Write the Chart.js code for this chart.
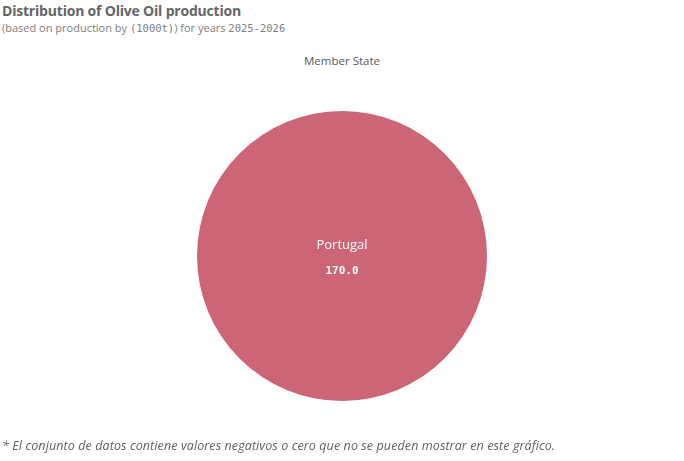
<!DOCTYPE html>
<html>
<head>
<meta charset="utf-8">
<script src="https://cdn.jsdelivr.net/npm/chart.js@4/dist/chart.umd.min.js"></script>
<style>
  html, body { margin: 0; padding: 0; background: #fff; }
  body { width: 684px; height: 461px; position: relative; overflow: hidden; font-family: "Open Sans", "Noto Sans", sans-serif; }
  #title { position: absolute; left: 2px; top: 1px; font-size: 14px; font-weight: bold; color: #656565; letter-spacing: -0.2px; }
  #subtitle { position: absolute; left: 2px; top: 20px; font-size: 11px; color: #808080; }
  #subtitle .mono { font-family: "DejaVu Sans Mono", monospace; font-size: 10.5px; }
  #legendTitle { position: absolute; left: 0; width: 684px; top: 53px; text-align: center; font-size: 11.5px; color: #595959; }
  #note { position: absolute; left: 2px; top: 437px; font-size: 12.5px; font-style: italic; color: #606060; letter-spacing: 0.1px; }
  #wrap { position: absolute; left: 0; top: 0; width: 684px; height: 461px; }
</style>
</head>
<body>
<div id="title">Distribution of Olive Oil production</div>
<div id="subtitle">(based on production by <span class="mono">(1000t)</span>) for years <span class="mono">2025-2026</span></div>
<div id="legendTitle">Member State</div>
<div id="wrap"><canvas id="c"></canvas></div>
<div id="note">* El conjunto de datos contiene valores negativos o cero que no se pueden mostrar en este gráfico.</div>
<script>
var states = ["Portugal"];
var production = [170.0];
var sliceColors = ["#cc6677"];

var sliceLabels = {
    id: 'sliceLabels',
    afterDatasetsDraw: function (chart) {
        var ctx = chart.ctx;
        var meta = chart.getDatasetMeta(0);
        meta.data.forEach(function (arc, i) {
            var p = arc.getCenterPoint();
            if (meta.data.length === 1) {
                p = { x: arc.x, y: arc.y };
            }
            ctx.save();
            ctx.fillStyle = "#ffffff";
            ctx.textAlign = "center";
            ctx.textBaseline = "middle";
            ctx.font = "13px 'Open Sans', sans-serif";
            ctx.fillText(states[i], p.x, p.y - 11);
            ctx.font = "bold 11px 'DejaVu Sans Mono', monospace";
            ctx.fillText(production[i].toFixed(1), p.x, p.y + 15);
            ctx.restore();
        });
    }
};

new Chart(document.getElementById('c'), {
    type: 'pie',
    data: {
        labels: states,
        datasets: [{
            data: production,
            backgroundColor: sliceColors,
            borderWidth: 0
        }]
    },
    options: {
        responsive: true,
        maintainAspectRatio: false,
        animation: false,
        layout: { padding: { top: 111, bottom: 60, left: 197, right: 197 } },
        plugins: {
            legend: { display: false },
            tooltip: { enabled: false }
        }
    },
    plugins: [sliceLabels]
});
</script>
</body>
</html>
